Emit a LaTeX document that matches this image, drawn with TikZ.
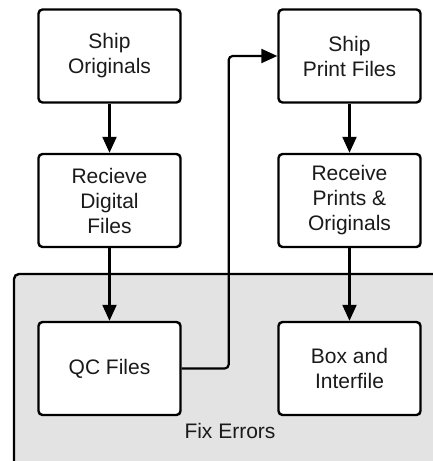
\documentclass[tikz,border=0pt]{standalone}
\usepackage{fontspec}
\setmainfont{Liberation Sans}
\usetikzlibrary{arrows.meta}
\definecolor{groupfill}{HTML}{E3E3E3}
\definecolor{txt}{HTML}{1A1A1A}
\begin{document}
\begin{tikzpicture}[x=1pt,y=-1pt,
  box/.style={draw, line width=2.4pt, rounded corners=4pt, fill=white,
    minimum width=142pt, minimum height=93pt, align=center, inner sep=0pt,
    text=txt, font=\fontsize{21}{25}\selectfont},
  arr/.style={line width=2.2pt, -{Triangle[length=16pt,width=14pt]}},
  grouplabel/.style={text=txt, font=\fontsize{21}{25}\selectfont, inner sep=0pt}]
\useasboundingbox (0,0) rectangle (433,461);
\clip (0,0) rectangle (433,461);
\draw[line width=2.4pt, rounded corners=5pt, fill=groupfill] (14,274) rectangle (450,480);
\node[grouplabel] (fix) at (230,431) {Fix Errors};
\node[box] (so) at (109.5,56) {Ship\\Originals};
\node[box] (rd) at (109.5,200.5) {Recieve\\Digital\\Files};
\node[box] (qc) at (109.5,368.5) {QC Files};
\node[box] (sp) at (349.5,56) {Ship\\Print Files};
\node[box] (rp) at (349.5,200.5) {Receive\\Prints \&\\Originals};
\node[box] (bi) at (349.5,368.5) {Box and\\Interfile};
\draw[arr] (so) -- (rd);
\draw[arr] (rd) -- (qc);
\draw[arr] (sp) -- (rp);
\draw[arr] (rp) -- (bi);
\draw[arr, rounded corners=4pt] (qc.east) -- ++(47,0) |- (sp.west);
\end{tikzpicture}
\end{document}
